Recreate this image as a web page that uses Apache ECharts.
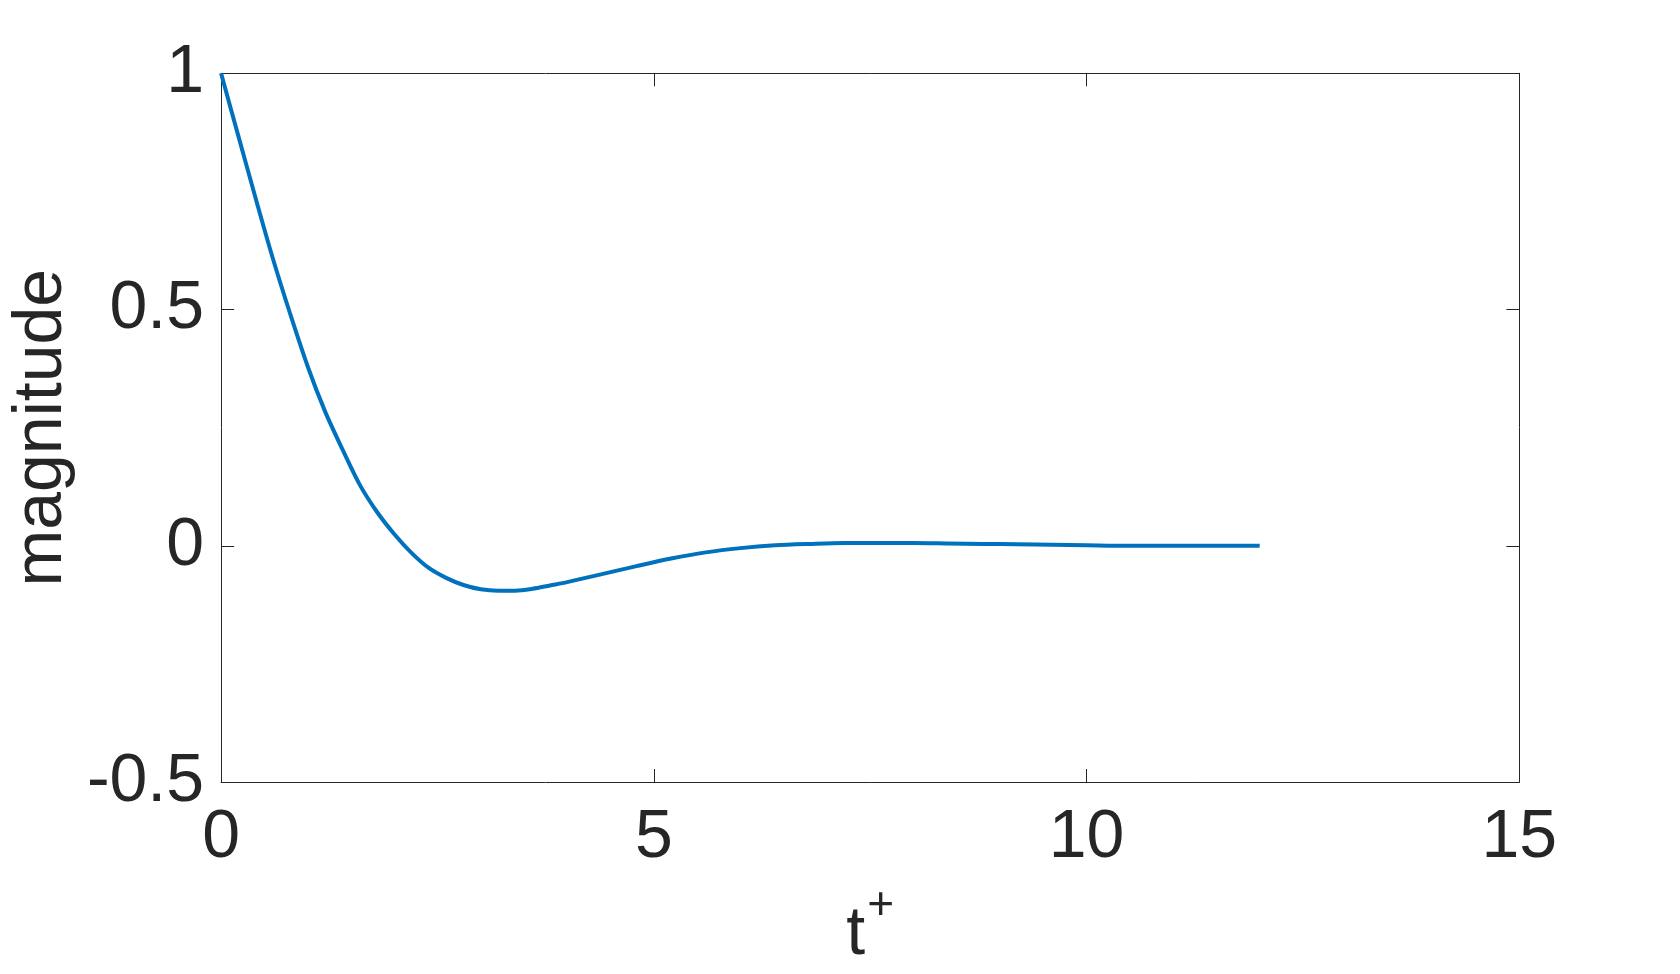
<!DOCTYPE html>
<html>
<head>
<meta charset="utf-8">
<script src="https://cdn.jsdelivr.net/npm/echarts@6/dist/echarts.min.js"></script>
<style>
html,body{margin:0;padding:0;background:#fff;}
#chart{width:1680px;height:974px;}
</style>
</head>
<body>
<div id="chart"></div>
<script>
// Data
const tValues = [0, 0.2, 0.4, 0.6, 0.8, 1.0, 1.2, 1.4, 1.6, 1.8, 2.0, 2.2, 2.4, 2.6, 2.8, 3.0, 3.2, 3.4, 3.6, 3.8, 4.0, 4.4, 4.8, 5.2, 5.6, 6.0, 6.4, 6.8, 7.2, 7.6, 8.0, 8.4, 8.8, 9.2, 9.6, 10.0, 10.5, 11.0, 11.5, 12.0];
const magnitudeValues = [1.0, 0.867, 0.735, 0.607, 0.49, 0.38, 0.285, 0.205, 0.13, 0.072, 0.025, -0.015, -0.047, -0.068, -0.083, -0.092, -0.095, -0.095, -0.091, -0.084, -0.077, -0.06, -0.043, -0.027, -0.014, -0.005, 0.001, 0.004, 0.006, 0.006, 0.006, 0.005, 0.004, 0.003, 0.002, 0.001, 0.0, 0.0, 0.0, 0.0];
const xTicks = [0, 5, 10, 15];
const yTicks = [-0.5, 0, 0.5, 1];
const xAxisName = 't';
const xAxisSup = '+';
const yAxisName = 'magnitude';

const seriesData = tValues.map((t, i) => [t, magnitudeValues[i]]);

const FONT = '"Liberation Sans", Arial, Helvetica, sans-serif';
const TXT = '#262626';

const chart = echarts.init(document.getElementById('chart'), null, {renderer: 'canvas'});
const tickStyle = {show: true, inside: true, length: 13, lineStyle: {color: TXT, width: 1}};
const lineStyle = {show: true, onZero: false, lineStyle: {color: TXT, width: 1}};

chart.setOption({
  animation: false,
  backgroundColor: '#ffffff',
  grid: {left: 218.5, right: 160.7, top: 73.3, bottom: 191.7, show: false, containLabel: false},
  xAxis: [{
    type: 'value', min: xTicks[0], max: xTicks[xTicks.length - 1], interval: xTicks[1] - xTicks[0],
    position: 'bottom',
    axisLine: lineStyle, axisTick: tickStyle, splitLine: {show: false},
    axisLabel: {color: TXT, fontFamily: FONT, fontSize: 68, margin: 22},
    name: '{t|' + xAxisName + '}{s|' + xAxisSup + '}',
    nameLocation: 'middle', nameGap: 101,
    nameTextStyle: {
      color: TXT, fontFamily: FONT, fontSize: 68,
      rich: {
        t: {color: TXT, fontFamily: FONT, fontSize: 68},
        s: {color: TXT, fontFamily: FONT, fontSize: 46, padding: [0, 0, 58, 2]}
      }
    }
  }, {
    type: 'value', min: xTicks[0], max: xTicks[xTicks.length - 1], interval: xTicks[1] - xTicks[0],
    position: 'top',
    axisLine: lineStyle, axisTick: tickStyle, splitLine: {show: false},
    axisLabel: {show: false}
  }],
  yAxis: [{
    type: 'value', min: yTicks[0], max: yTicks[yTicks.length - 1], interval: yTicks[1] - yTicks[0],
    position: 'left',
    axisLine: lineStyle, axisTick: tickStyle, splitLine: {show: false},
    axisLabel: {color: TXT, fontFamily: FONT, fontSize: 68, margin: 17},
    name: yAxisName, nameLocation: 'middle', nameGap: 144,
    nameTextStyle: {color: TXT, fontFamily: FONT, fontSize: 68}
  }, {
    type: 'value', min: yTicks[0], max: yTicks[yTicks.length - 1], interval: yTicks[1] - yTicks[0],
    position: 'right',
    axisLine: lineStyle, axisTick: tickStyle, splitLine: {show: false},
    axisLabel: {show: false}
  }],
  series: [{
    type: 'line',
    xAxisIndex: 0, yAxisIndex: 0,
    data: seriesData,
    showSymbol: false,
    smooth: 0.3,
    lineStyle: {color: '#0072BD', width: 4},
    itemStyle: {color: '#0072BD'}
  }]
});
</script>
</body>
</html>
